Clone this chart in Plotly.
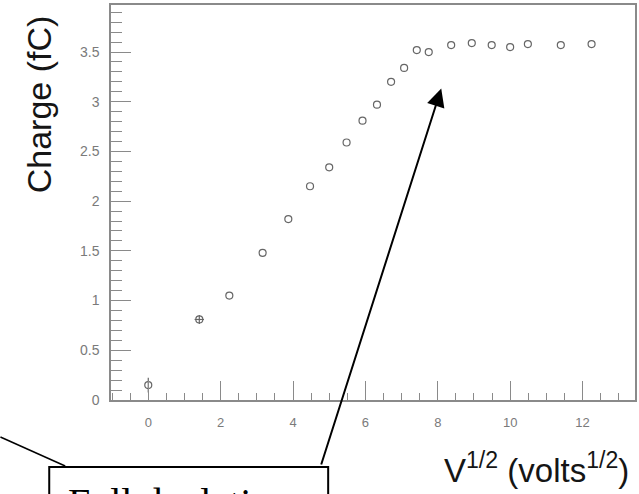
import plotly.graph_objects as go

# Collected charge versus square root of bias voltage
sqrt_volts = [0.0, 1.41, 2.24, 3.16, 3.87, 4.47, 5.0, 5.48, 5.92, 6.32, 6.71,
              7.07, 7.42, 7.75, 8.37, 8.94, 9.49, 10.0, 10.49, 11.40, 12.25]
charge_fc = [0.15, 0.81, 1.05, 1.48, 1.82, 2.15, 2.34, 2.59, 2.81, 2.97, 3.20,
             3.34, 3.52, 3.50, 3.57, 3.59, 3.57, 3.55, 3.58, 3.57, 3.58]
charge_err = [0.075, 0.045, 0, 0, 0, 0, 0, 0, 0, 0, 0,
              0, 0, 0, 0, 0, 0, 0, 0, 0, 0]
sqrt_volts_err = [0.0, 0.13, 0.0, 0.0, 0.0, 0.0, 0.0, 0.0, 0.0, 0.0, 0.0,
                  0.0, 0.0, 0.0, 0.0, 0.0, 0.0, 0.0, 0.0, 0.0, 0.0]

x_ticks = [0, 2, 4, 6, 8, 10, 12]
y_ticks = [0, 0.5, 1, 1.5, 2, 2.5, 3, 3.5]
y_tick_text = ["0", "0.5", "1", "1.5", "2", "2.5", "3", "3.5"]

W, H = 639, 494
L, R, T, B = 111, 2, 5, 94
pw, ph = W - L - R, H - T - B


def px(x):
    return (x - L) / pw


def py(y):
    return (H - B - y) / ph


axis_grey = "#8a8a8a"
label_grey = "#7a7a7a"

fig = go.Figure()
fig.add_trace(go.Scatter(
    x=sqrt_volts, y=charge_fc, mode="markers",
    marker=dict(symbol="circle-open", size=7, color="#666666",
                line=dict(width=1.2, color="#666666")),
    error_y=dict(type="data", array=charge_err, visible=True,
                 thickness=1.2, width=0, color="#666666"),
    error_x=dict(type="data", array=sqrt_volts_err, visible=True,
                 thickness=1.2, width=0, color="#666666"),
    showlegend=False,
))

fig.update_layout(
    width=W, height=H,
    margin=dict(l=L, r=R, t=T, b=B, pad=0),
    paper_bgcolor="white", plot_bgcolor="white",
    font=dict(family="Liberation Sans, Arial, sans-serif"),
    xaxis=dict(
        range=[-1.03, 13.45], showgrid=False, zeroline=False,
        showline=True, linecolor=axis_grey, linewidth=1.5, mirror=True,
        ticks="inside", ticklen=19, tickwidth=1.2, tickcolor=axis_grey,
        tickvals=x_ticks, ticktext=[str(v) for v in x_ticks],
        tickfont=dict(size=13, color=label_grey), ticklabelstandoff=10,
        minor=dict(dtick=0.5, tick0=0, ticks="inside", ticklen=7,
                   tickwidth=1.2, tickcolor=axis_grey),
    ),
    yaxis=dict(
        range=[0, 3.973], showgrid=False, zeroline=False,
        showline=True, linecolor=axis_grey, linewidth=1.5, mirror=True,
        ticks="inside", ticklen=20, tickwidth=1.2, tickcolor=axis_grey,
        tickvals=y_ticks, ticktext=y_tick_text,
        tickfont=dict(size=14, color=label_grey), ticklabelstandoff=7,
        minor=dict(dtick=0.1, tick0=0, ticks="inside", ticklen=11,
                   tickwidth=1.2, tickcolor=axis_grey),
    ),
)

# Axis titles
fig.add_annotation(
    text="Charge (fC)", xref="paper", yref="paper",
    x=px(39), y=py(104), textangle=-90, showarrow=False,
    xanchor="center", yanchor="middle",
    font=dict(size=34, color="#151515", family="Liberation Sans, Arial, sans-serif"),
)
fig.add_annotation(
    text="V<sup>1/2</sup> (volts<sup>1/2</sup>)", xref="paper", yref="paper",
    x=px(633), y=py(468), showarrow=False,
    xanchor="right", yanchor="middle",
    font=dict(size=33, color="#151515", family="Liberation Sans, Arial, sans-serif"),
)

# Callout box and leader lines
fig.add_shape(type="rect", xref="paper", yref="paper",
              x0=px(49), x1=px(329), y0=py(560), y1=py(467),
              line=dict(color="black", width=2), fillcolor="white", layer="above")
fig.add_shape(type="line", xref="paper", yref="paper",
              x0=px(0), y0=py(437), x1=px(65), y1=py(466),
              line=dict(color="black", width=1.5))
fig.add_annotation(
    text="", xref="paper", yref="paper", x=px(442.5), y=py(88.5),
    showarrow=True, axref="pixel", ayref="pixel",
    ax=322 - 442.5, ay=466 - 88.5,
    arrowhead=2, arrowsize=1.8, arrowwidth=2, arrowcolor="black",
)
fig.add_annotation(
    text="Full depletion", xref="paper", yref="paper",
    x=px(66), y=py(478), showarrow=False,
    xanchor="left", yanchor="top",
    font=dict(size=40, color="black", family="Liberation Serif, Times New Roman, serif"),
)

fig.write_html("out.html")
